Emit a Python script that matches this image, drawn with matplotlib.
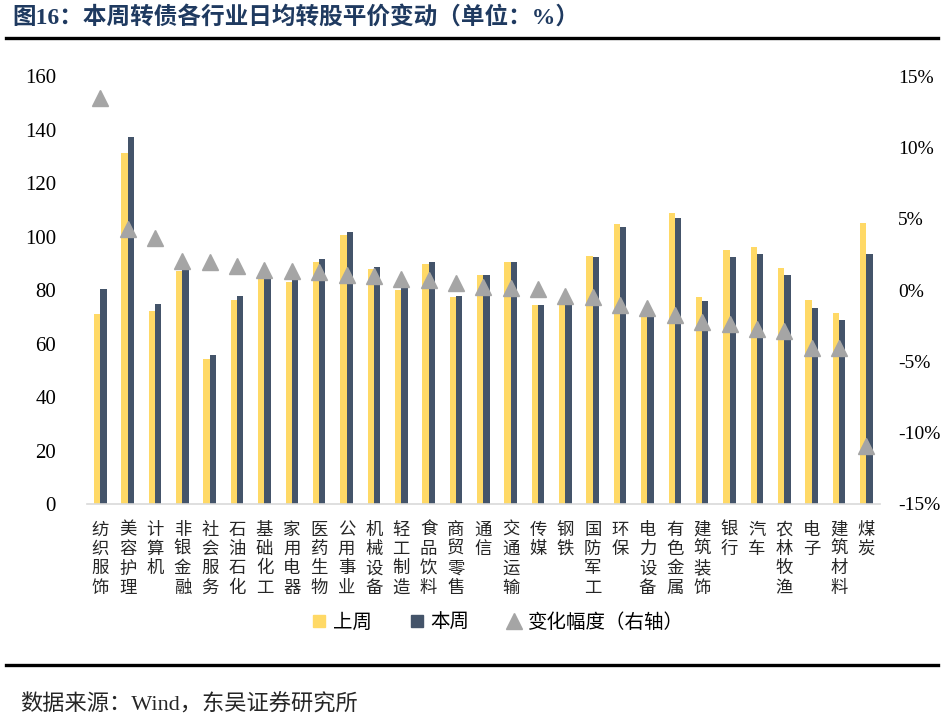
import matplotlib
matplotlib.use("Agg")
import matplotlib.pyplot as plt
import numpy as np
from matplotlib.lines import Line2D

# data
industries = ["纺织服饰", "美容护理", "计算机", "非银金融", "社会服务", "石油石化", "基础化工",
              "家用电器", "医药生物", "公用事业", "机械设备", "轻工制造", "食品饮料", "商贸零售",
              "通信", "交通运输", "传媒", "钢铁", "国防军工", "环保", "电力设备", "有色金属",
              "建筑装饰", "银行", "汽车", "农林牧渔", "电子", "建筑材料", "煤炭"]
last_week = [71.0, 131.2, 72.1, 87.1, 54.2, 76.3, 84.2, 83.1, 90.5, 100.6, 88.0, 79.9, 89.7, 77.4,
             85.5, 90.4, 74.3, 75.0, 92.7, 104.6, 70.8, 108.8, 77.4, 94.8, 96.1, 88.1, 76.3, 71.4, 104.9]
this_week = [80.5, 137.2, 74.9, 88.7, 55.6, 77.6, 85.3, 84.1, 91.6, 101.6, 88.5, 80.9, 90.5, 77.9,
             85.7, 90.6, 74.5, 75.1, 92.4, 103.7, 70.4, 106.8, 75.9, 92.4, 93.3, 85.7, 73.2, 68.8, 93.3]
change_pct = [13.47, 4.27, 3.63, 2.05, 1.97, 1.66, 1.42, 1.33, 1.28, 1.03, 0.95, 0.79, 0.68, 0.47,
              0.20, 0.14, 0.08, -0.41, -0.46, -1.06, -1.27, -1.77, -2.22, -2.41, -2.76, -2.88,
              -4.03, -4.03, -10.9]
left_ticks = [0, 20, 40, 60, 80, 100, 120, 140, 160]
right_ticks = [-15, -10, -5, 0, 5, 10, 15]
right_labels = ["-15%", "-10%", "-5%", "0%", "5%", "10%", "15%"]

YELLOW = "#FFD966"
NAVY = "#44546A"
GRAY = "#A5A5A5"
serif_cjk = ["Liberation Serif", "Noto Sans CJK SC"]
plt.rcParams["font.family"] = serif_cjk

fig = plt.figure(figsize=(9.44, 7.2), dpi=100)
ax = fig.add_axes([0.0918, 0.30, 0.8404, 0.5944])
x = np.arange(len(industries))
w = 0.23
ax.bar(x - w / 2, last_week, width=w, color=YELLOW, label="上周")
ax.bar(x + w / 2, this_week, width=w, color=NAVY, label="本周")
ax.set_xlim(-0.5, len(industries) - 0.5)
ax.set_ylim(0, 160)
ax.set_yticks(left_ticks)
ax.tick_params(axis="y", length=0, labelsize=15, pad=22)
ax.set_xticks(x)
ax.set_xticklabels(["\n".join(s) for s in industries], fontsize=12.5,
                   family=["Noto Sans CJK SC"], linespacing=1.1, color="#262626")
ax.tick_params(axis="x", length=0, pad=12)
for s in ["top", "right", "left"]:
    ax.spines[s].set_visible(False)
ax.spines["bottom"].set_color("#D9D9D9")
ax.spines["bottom"].set_linewidth(1.2)

ax2 = ax.twinx()
ax2.plot(x, change_pct, linestyle="none", marker="^", markersize=11, color=GRAY,
         label="变化幅度（右轴）")
ax2.set_ylim(-15, 15)
ax2.set_yticks(right_ticks)
ax2.set_yticklabels(right_labels)
ax2.tick_params(axis="y", length=0, labelsize=14, pad=13)
for s in ax2.spines.values():
    s.set_visible(False)

handles = [Line2D([], [], linestyle="none", marker="s", markersize=9, color=YELLOW),
           Line2D([], [], linestyle="none", marker="s", markersize=9, color=NAVY),
           Line2D([], [], linestyle="none", marker="^", markersize=12, color=GRAY)]
fig.legend(handles, ["上周", "本周", "变化幅度（右轴）"], loc="center", ncol=3,
           bbox_to_anchor=(0.527, 0.136), frameon=False, handlelength=0.8,
           handletextpad=0.3, columnspacing=1.9,
           prop={"family": ["Noto Sans CJK SC"], "size": 14})

fig.text(0.013, 0.976, "图16：本周转债各行业日均转股平价变动（单位：%）", fontsize=17,
         fontweight="bold", color="#1F3A60", va="center", ha="left")
fig.add_artist(Line2D([0.006, 0.994], [0.947, 0.947], color="black", linewidth=2.4))
fig.add_artist(Line2D([0.006, 0.994], [0.0764, 0.0764], color="black", linewidth=2.4))
fig.text(0.021, 0.021, "数据来源：Wind，东吴证券研究所", fontsize=16, va="center", ha="left",
         color="#262626")

fig.savefig("out.png", dpi=100)
